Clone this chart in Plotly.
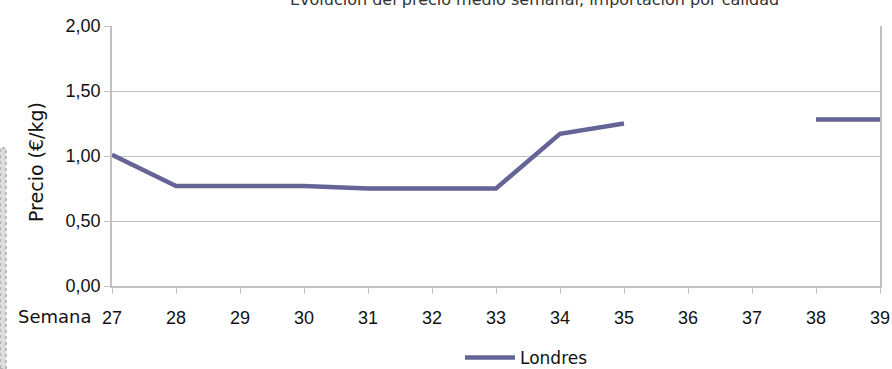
import plotly.graph_objects as go

# Weekly price series (€/kg) for the London market
semanas = [27, 28, 29, 30, 31, 32, 33, 34, 35, 36, 37, 38, 39]
precio_londres = [1.01, 0.77, 0.77, 0.77, 0.75, 0.75, 0.75, 1.17, 1.25, None, None, 1.28, 1.28]
y_ticks = [0.0, 0.5, 1.0, 1.5, 2.0]

titulo = "Evolución del precio medio semanal, importación por calidad"
serie = "Londres"
color_linea = "#646496"
gris = "#c0c0c0"
fuente_num = "Liberation Sans, Arial, sans-serif"
fuente_txt = "DejaVu Sans, sans-serif"

W, H = 892, 369
ML, MR, MT, MB = 112, 12, 26, 83
PW, PH = W - ML - MR, H - MT - MB

fig = go.Figure()
fig.add_trace(go.Scatter(
    x=semanas, y=precio_londres, mode="lines", name=serie,
    line=dict(color=color_linea, width=4.5), connectgaps=False,
))

fig.update_layout(
    width=W, height=H,
    margin=dict(l=ML, r=MR, t=MT, b=MB, autoexpand=False),
    paper_bgcolor="white", plot_bgcolor="white",
    separators=",.",
    showlegend=True,
    legend=dict(orientation="h", xref="container", yref="container",
                x=460 / W, xanchor="left", y=1 - 358 / H, yanchor="middle",
                itemwidth=50, tracegroupgap=0,
                font=dict(family=fuente_txt, size=17, color="#111111"),
                bgcolor="rgba(0,0,0,0)", borderwidth=0),
)

fig.update_xaxes(
    range=[27, 39], tickmode="array", tickvals=semanas,
    ticktext=[str(s) for s in semanas],
    showgrid=False, showline=True, linecolor=gris, linewidth=1.5,
    ticks="outside", ticklen=6, tickcolor=gris, ticklabelstandoff=9,
    tickfont=dict(family=fuente_num, size=18, color="#111111"),
    zeroline=False, automargin=False,
)
fig.update_yaxes(
    range=[0, 2], tickmode="array", tickvals=y_ticks, tickformat=".2f",
    showgrid=True, gridcolor=gris, gridwidth=1,
    showline=True, linecolor=gris, linewidth=1.5, mirror=True,
    ticks="outside", ticklen=6, tickcolor=gris,
    tickfont=dict(family=fuente_num, size=18, color="#111111"),
    zeroline=False, automargin=False,
)

# Chart title sitting at the very top edge of the page
fig.add_annotation(
    text=titulo, xref="paper", yref="paper", x=0.55, y=1, xanchor="center",
    yanchor="middle", yshift=27, showarrow=False,
    font=dict(family=fuente_txt, size=16, color="#333333"),
)

# Vertical axis title
fig.add_annotation(
    text="Precio (€/kg)", textangle=-90, xref="paper", yref="paper",
    x=0, xshift=-(ML - 36), xanchor="center", y=(MT + PH - 162) / PH, yanchor="middle",
    showarrow=False, font=dict(family=fuente_txt, size=19, color="#111111"),
)

# Axis caption placed left of the first week label
fig.add_annotation(
    text="Semana", xref="paper", yref="paper", x=0, y=0, xanchor="right", yanchor="middle",
    xshift=-18, yshift=-30, showarrow=False,
    font=dict(family=fuente_txt, size=18, color="#111111"),
)

# Dotted strip along the left edge of the page
fig.add_shape(type="rect", xref="paper", yref="paper",
              x0=-ML / PW, x1=-(ML - 6) / PW, y0=-MB / PH, y1=(MT + PH - 148) / PH,
              line=dict(color="#888888", width=1, dash="dot"), fillcolor="#dddddd")

fig.write_html("out.html")
